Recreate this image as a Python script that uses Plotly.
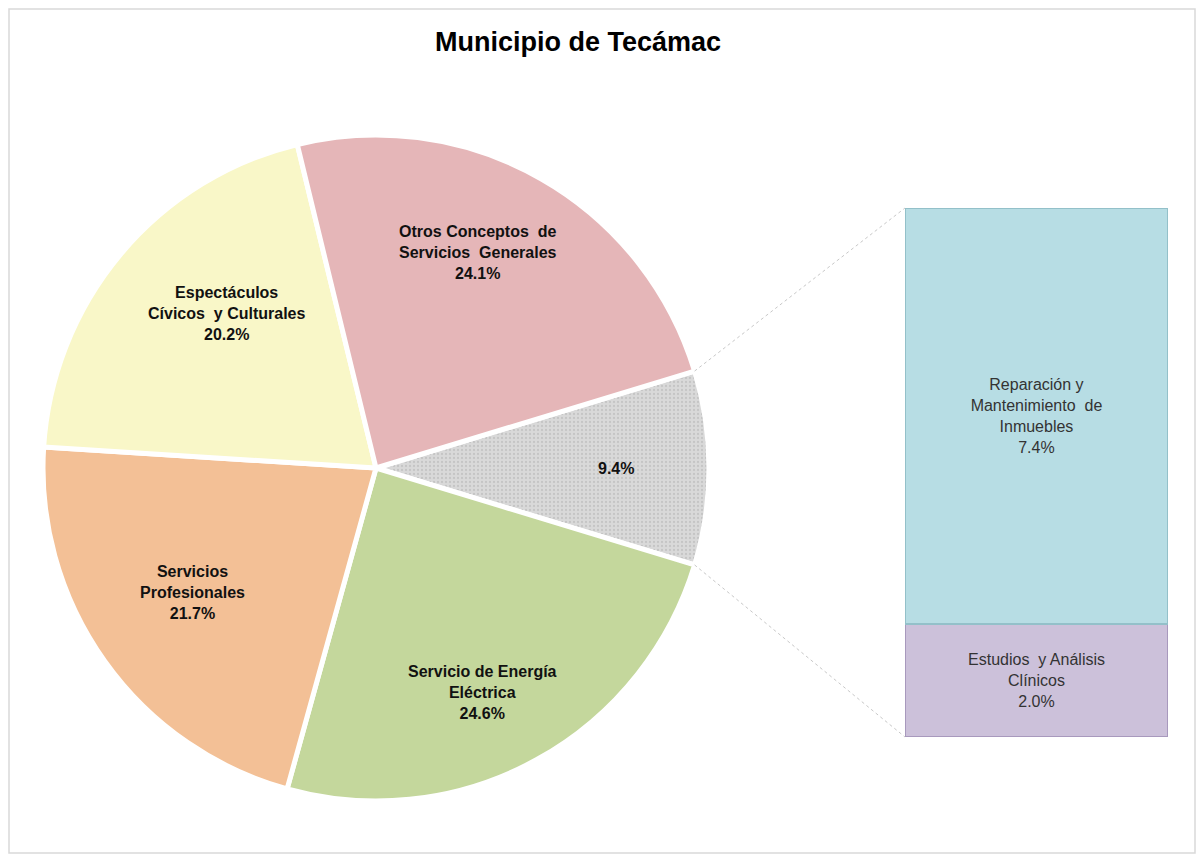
import math
import plotly.graph_objects as go

title = "Municipio de Tecámac"

# pie slices, clockwise starting with the aggregated "otros" slice
pie_labels = ["Otros", "Servicio de Energía Eléctrica", "Servicios Profesionales",
              "Espectáculos Cívicos y Culturales", "Otros Conceptos de Servicios Generales"]
pie_text = ["9.4%",
            "Servicio de Energía<br>Eléctrica<br>24.6%",
            "Servicios<br>Profesionales<br>21.7%",
            "Espectáculos<br>Cívicos  y Culturales<br>20.2%",
            "Otros Conceptos  de<br>Servicios  Generales<br>24.1%"]
pie_values = [9.4, 24.6, 21.7, 20.2, 24.1]
pie_colors = ["#d9d9d9", "#c4d79c", "#f3c096", "#f9f7c8", "#e5b6b8"]

# bar that breaks down the "otros" slice (bottom to top)
bar_labels = ["Estudios y Análisis Clínicos", "Reparación y Mantenimiento de Inmuebles"]
bar_text = ["Estudios  y Análisis<br>Clínicos<br>2.0%",
            "Reparación y<br>Mantenimiento  de<br>Inmuebles<br>7.4%"]
bar_values = [2.0, 7.4]
bar_colors = ["#ccc1da", "#b7dde4"]
bar_edges = ["#a899bd", "#93c0c9"]

# label placement inside each slice: radius fraction and angle nudge (deg)
label_r = [0.72, 0.745, 0.665, 0.645, 0.715]
label_dang = [0, 3.5, 1.4, 6, -4.3]

# the page has an 8px body margin, so work in page pixels and shift
OFF = 8
FW, FH = 1204 - 2 * OFF, 863 - 2 * OFF


def px2x(px):
    return (px - OFF) / FW


def py2y(py):
    return 1 - (py - OFF) / FH


cx, cy, R = 376, 468, 333          # pie centre / radius (page pixels)
bar_x = [px2x(905), px2x(1168)]
bar_y = [py2y(737), py2y(208)]

total = sum(pie_values)
rotation = 90 - pie_values[0] / total * 360 / 2

fig = go.Figure()

fig.add_trace(go.Pie(
    labels=pie_labels,
    values=pie_values,
    sort=False,
    direction="clockwise",
    rotation=rotation,
    textinfo="none",
    hoverinfo="label+percent",
    marker=dict(colors=pie_colors, line=dict(color="white", width=5),
                pattern=dict(shape=[".", "", "", "", ""], fillmode="overlay",
                             fgcolor="#b0b0b0", size=4, solidity=0.25)),
    domain=dict(x=[px2x(cx - R), px2x(cx + R)], y=[py2y(cy + R), py2y(cy - R)]),
    showlegend=False,
))

for lab, val, txt, col, edge in zip(bar_labels, bar_values, bar_text, bar_colors, bar_edges):
    fig.add_trace(go.Bar(
        x=[""], y=[val], name=lab, text=[txt], textposition="inside",
        insidetextanchor="middle", constraintext="none",
        textfont=dict(family="Arial, Liberation Sans", size=16, color="#333333"),
        marker=dict(color=col, line=dict(color=edge, width=2)),
        width=1, xaxis="x2", yaxis="y2", showlegend=False,
    ))

# labels inside the pie, placed along each slice's mid angle
annotations = []
start = rotation
for txt, val, f, da in zip(pie_text, pie_values, label_r, label_dang):
    span = val / total * 360
    mid = math.radians(start + span / 2 + da)
    px = cx + f * R * math.sin(mid)
    py = cy - f * R * math.cos(mid)
    annotations.append(dict(x=px2x(px), y=py2y(py), xref="paper", yref="paper",
                            xanchor="center", yanchor="middle",
                            text="<b>" + txt + "</b>", showarrow=False,
                            font=dict(family="Arial, Liberation Sans", size=16, color="#111111")))
    start += span

# dotted connectors from the "otros" slice to the bar
a0 = math.radians(rotation)
a1 = math.radians(rotation + pie_values[0] / total * 360)
p_top = (cx + R * math.sin(a0), cy - R * math.cos(a0))
p_bot = (cx + R * math.sin(a1), cy - R * math.cos(a1))
shapes = [
    dict(type="line", xref="paper", yref="paper", x0=px2x(p_top[0]), y0=py2y(p_top[1]),
         x1=bar_x[0], y1=bar_y[1], line=dict(color="#c8c8c8", width=1, dash="dot")),
    dict(type="line", xref="paper", yref="paper", x0=px2x(p_bot[0]), y0=py2y(p_bot[1]),
         x1=bar_x[0], y1=bar_y[0], line=dict(color="#c8c8c8", width=1, dash="dot")),
    dict(type="rect", xref="paper", yref="paper", x0=px2x(9), y0=py2y(853), x1=px2x(1195), y1=py2y(9),
         line=dict(color="#d9d9d9", width=1.5)),
]

fig.update_layout(
    width=FW, height=FH,
    margin=dict(l=0, r=0, t=0, b=0),
    paper_bgcolor="white", plot_bgcolor="white",
    title=dict(text="<b>" + title + "</b>", x=px2x(578), xanchor="center", y=py2y(42), yanchor="middle",
               font=dict(family="Arial, Liberation Sans", size=27, color="black")),
    barmode="stack", bargap=0,
    xaxis2=dict(domain=bar_x, visible=False, anchor="y2"),
    yaxis2=dict(domain=bar_y, visible=False, range=[0, sum(bar_values)], anchor="x2"),
    annotations=annotations,
    shapes=shapes,
)

fig.write_html("out.html")
